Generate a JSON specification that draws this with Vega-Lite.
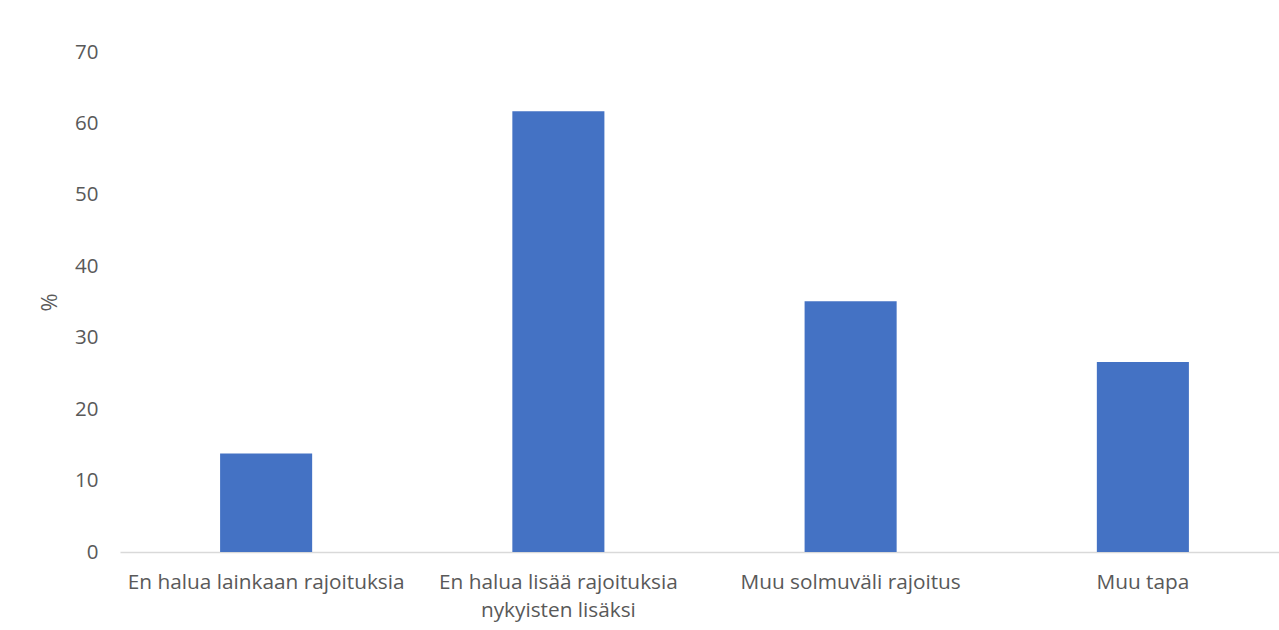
{
  "$schema": "https://vega.github.io/schema/vega-lite/v6.json",
  "autosize": "none",
  "width": 1169,
  "height": 500,
  "padding": {"left": 120, "top": 52, "right": 0, "bottom": 78},
  "background": "white",
  "config": {
    "font": "Open Sans",
    "view": {"stroke": null},
    "axis": {"labelFont": "Open Sans", "titleFont": "Open Sans", "labelColor": "#595959", "titleColor": "#595959"}
  },
  "data": {
    "values": [
      {"kategoria": "En halua lainkaan rajoituksia", "prosentti": 13.8},
      {"kategoria": "En halua lisää rajoituksia nykyisten lisäksi", "prosentti": 61.7},
      {"kategoria": "Muu solmuväli rajoitus", "prosentti": 35.1},
      {"kategoria": "Muu tapa", "prosentti": 26.6}
    ]
  },
  "mark": {"type": "bar", "color": "#4472C4"},
  "encoding": {
    "x": {
      "field": "kategoria",
      "type": "nominal",
      "sort": null,
      "scale": {"paddingInner": 0.685, "paddingOuter": 0.3425},
      "axis": {
        "title": null,
        "labelAngle": 0,
        "labelFontSize": 20.8,
        "labelPadding": 20,
        "labelLineHeight": 28,
        "ticks": false,
        "domainColor": "#D9D9D9",
        "domainWidth": 1.5,
        "labelLimit": 400,
        "labelExpr": "datum.label == 'En halua lisää rajoituksia nykyisten lisäksi' ? ['En halua lisää rajoituksia', 'nykyisten lisäksi'] : datum.label"
      }
    },
    "y": {
      "field": "prosentti",
      "type": "quantitative",
      "scale": {"domain": [0, 70], "nice": false},
      "axis": {
        "title": "%",
        "titleFontSize": 22,
        "titleFontWeight": "normal",
        "titleX": -59,
        "titleY": 250,
        "values": [0, 10, 20, 30, 40, 50, 60, 70],
        "labelFontSize": 20.5,
        "labelPadding": 22,
        "ticks": false,
        "domain": false,
        "grid": false
      }
    }
  }
}
